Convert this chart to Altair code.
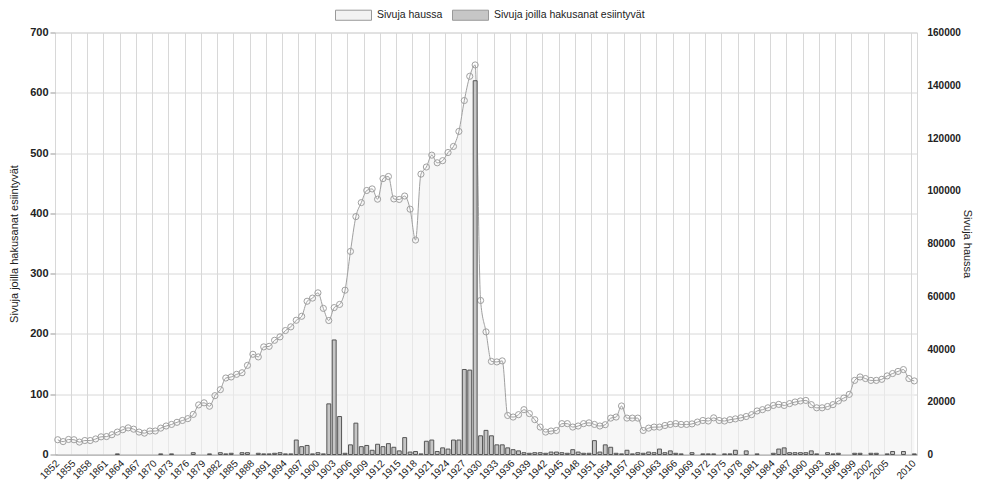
import altair as alt
import pandas as pd

FONT = "Liberation Sans"
SERIES_PAGES = "Sivuja haussa"
SERIES_HITS = "Sivuja joilla hakusanat esiintyvät"

years = list(range(1852, 2011))

# Sivuja haussa (right axis)
pages = [
    5600, 4900, 5700, 5600, 4700, 5300, 5300, 5900, 6700, 6800,          # 1852-1861
    7500, 8500, 9400, 10100, 9600, 8500, 8100, 8900, 8900, 10000,        # 1862-1871
    10800, 11400, 12200, 12900, 13600, 15200, 18800, 19600, 18300, 22300,  # 1872-1881
    24600, 29000, 29400, 30400, 31000, 33800, 38000, 37000, 40800, 41000,  # 1882-1891
    43300, 44600, 47000, 48400, 50900, 52400, 58100, 59300, 61300, 55400,  # 1892-1901
    50800, 55700, 56900, 62300, 77000, 90200, 95500, 100100, 100700, 96800,  # 1902-1911
    104600, 105400, 96900, 96700, 98000, 93000, 81300, 106300, 109000, 113500,  # 1912-1921
    110600, 111400, 114500, 116800, 122500, 134200, 143400, 147700, 58400, 46500,  # 1922-1931
    35300, 35100, 35500, 14800, 14200, 15100, 17000, 15500, 13200, 10400,  # 1932-1941
    8500, 8900, 9100, 11700, 11700, 10400, 10800, 11700, 12000, 11400,     # 1942-1951
    10800, 11300, 13800, 14200, 18400, 13800, 13800, 13800, 9100, 10000,   # 1952-1961
    10400, 10400, 11000, 11400, 11700, 11400, 11400, 11600, 12300, 12900,  # 1962-1971
    12700, 13900, 12900, 12700, 13200, 13500, 13900, 14400, 15100, 16500,  # 1972-1981
    17000, 17700, 18600, 19000, 18600, 19300, 19900, 20300, 20500, 18900,  # 1982-1991
    17700, 17700, 18200, 18900, 20300, 21400, 22800, 28100, 29400, 28800,  # 1992-2001
    28100, 28100, 28500, 29800, 30700, 31500, 32200, 28800, 27900,         # 2002-2010
]

# Sivuja joilla hakusanat esiintyvät (left axis)
hits = [
    0, 0, 0, 0, 0, 0, 0, 0, 0, 0,          # 1852-1861
    0, 1, 0, 0, 0, 0, 0, 0, 0, 1,          # 1862-1871
    0, 1, 0, 0, 0, 3, 0, 0, 1, 0,          # 1872-1881
    3, 1, 2, 0, 3, 3, 0, 2, 1, 1,          # 1882-1891
    2, 3, 1, 1, 24, 13, 15, 1, 3, 1,       # 1892-1901
    84, 190, 63, 2, 16, 52, 13, 15, 7, 17,  # 1902-1911
    13, 18, 12, 6, 28, 4, 5, 1, 22, 24,    # 1912-1921
    5, 11, 9, 24, 24, 141, 140, 620, 31, 40,  # 1922-1931
    31, 16, 16, 11, 8, 6, 3, 2, 3, 3,      # 1932-1941
    2, 4, 4, 3, 2, 8, 4, 2, 2, 23,         # 1942-1951
    4, 16, 12, 2, 1, 7, 1, 3, 2, 4,        # 1952-1961
    3, 9, 3, 6, 2, 1, 0, 3, 0, 1,          # 1962-1971
    1, 1, 0, 1, 1, 7, 0, 6, 0, 1,          # 1972-1981
    0, 0, 2, 9, 11, 3, 3, 3, 3, 6,         # 1982-1991
    1, 0, 3, 1, 2, 0, 0, 2, 2, 0,          # 1992-2001
    2, 2, 0, 1, 5, 0, 5, 0, 1,             # 2002-2010
]

label_years = list(range(1852, 2006, 3)) + [2010]
left_ticks = [0, 100, 200, 300, 400, 500, 600, 700]
right_ticks = [0, 20000, 40000, 60000, 80000, 100000, 120000, 140000, 160000]

df = pd.DataFrame({"year": years, "pages": pages, "hits": hits})
df["series_pages"] = SERIES_PAGES
df_hits = df[df["hits"] > 0].copy()
df_hits["series_hits"] = SERIES_HITS

x_scale = alt.Scale(type="band", domain=years, paddingInner=0, paddingOuter=0)
fill_scale = alt.Scale(domain=[SERIES_PAGES, SERIES_HITS], range=["#f2f2f2", "#c6c6c6"])

legend = alt.Legend(
    orient="none", legendX=280, legendY=-36, direction="horizontal", title=None,
    symbolType="M-1,-0.28L1,-0.28L1,0.28L-1,0.28Z", symbolSize=1296,
    symbolStrokeColor="#999999", symbolStrokeWidth=1, symbolOpacity=1,
    labelFont=FONT, labelFontSize=10.5, labelColor="#222222", labelOffset=5,
    columnPadding=7, padding=0, labelLimit=300,
)

x_grid = alt.X(
    "year:O", scale=x_scale,
    axis=alt.Axis(orient="bottom", values=label_years, grid=True, bandPosition=0,
                  labels=False, ticks=False, domain=False, title=None, gridColor="#d8d8d8"),
)
y_pages = alt.Y(
    "pages:Q", scale=alt.Scale(domain=[0, 160000], nice=False, zero=True),
    axis=alt.Axis(orient="right", values=right_ticks, grid=False, ticks=False,
                  domain=False, labelPadding=10, labelFontWeight="bold", labelFontSize=10,
                  title=SERIES_PAGES, titlePadding=1, format="d"),
)

area = alt.Chart(df).mark_area(interpolate="monotone", opacity=0.6).encode(
    x=x_grid,
    y=y_pages,
    fill=alt.Fill("series_pages:N", scale=fill_scale, legend=legend),
)

line = alt.Chart(df).mark_line(
    interpolate="monotone", color="#a0a0a0", strokeWidth=1,
    point=alt.OverlayMarkDef(filled=False, color="#a0a0a0", size=38, strokeWidth=1),
).encode(x=x_grid, y=y_pages)

bars = alt.Chart(df_hits).mark_bar(
    width=alt.RelativeBandSize(0.72), stroke="#555555", strokeWidth=1
).encode(
    x=alt.X("year:O", scale=x_scale,
            axis=alt.Axis(orient="bottom", values=label_years, labelAngle=-45,
                          labelAlign="right", labelBaseline="middle", labelPadding=7,
                          bandPosition=0.3, grid=False, ticks=False, domain=True,
                          domainColor="#9a9a9a", title=None, labelFontSize=10)),
    y=alt.Y("hits:Q", scale=alt.Scale(domain=[0, 700], nice=False),
            axis=alt.Axis(orient="left", values=left_ticks, grid=True, gridColor="#d8d8d8",
                          ticks=True, tickSize=5, tickColor="#999999", domain=False,
                          labelPadding=2, labelFontWeight="bold", labelFontSize=11,
                          title=SERIES_HITS, titlePadding=10)),
    fill=alt.Fill("series_hits:N", scale=fill_scale, legend=legend),
)

chart = (
    alt.layer(alt.layer(area, line), bars)
    .resolve_scale(y="independent")
    .resolve_axis(x="independent")
    .properties(
        width=862, height=422,
        autosize=alt.AutoSizeParams(type="none"),
        padding={"left": 47, "top": 24.5, "right": 56, "bottom": 27},
    )
    .configure_view(stroke="#d8d8d8")
    .configure_axis(labelFont=FONT, titleFont=FONT, labelColor="#222222",
                    titleColor="#222222", titleFontWeight="normal", titleFontSize=11)
)

chart.save("out.html", embed_options={"renderer": "svg", "actions": False})
